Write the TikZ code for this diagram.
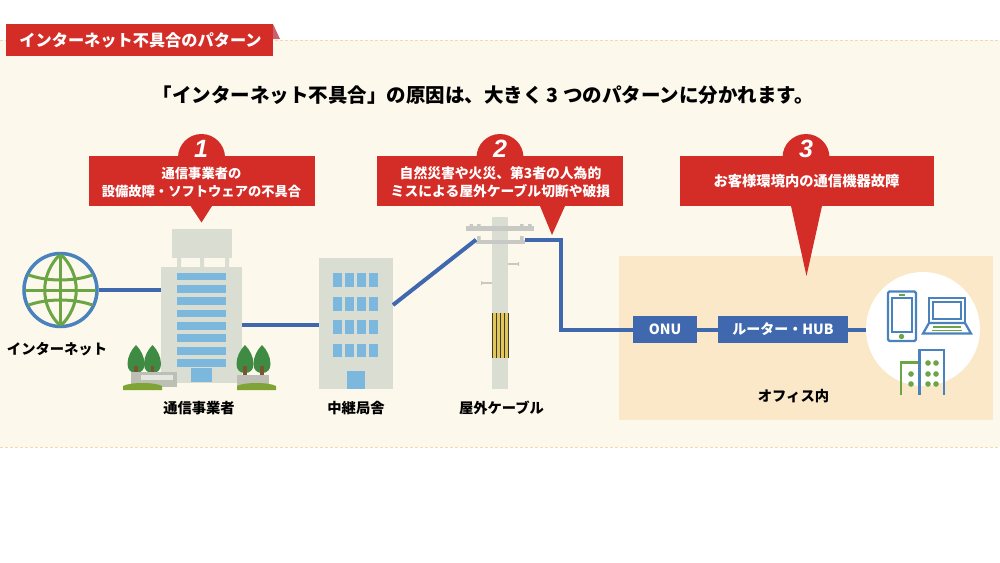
\documentclass[tikz,border=0pt]{standalone}
\usepackage{fontspec}
\setmainfont{Noto Sans CJK JP}
\newfontfamily\numf{Liberation Sans}
\definecolor{cream}{HTML}{FDF8EC}
\definecolor{dashc}{HTML}{F5D9A8}
\definecolor{redc}{HTML}{D42C26}
\definecolor{foldc}{HTML}{C9606A}
\definecolor{bluel}{HTML}{3F68AE}
\definecolor{globeb}{HTML}{4A82BE}
\definecolor{greenc}{HTML}{6BA544}
\definecolor{bldgc}{HTML}{D9DDD2}
\definecolor{winc}{HTML}{7CB8DE}
\definecolor{officec}{HTML}{FAE8C8}
\definecolor{treec}{HTML}{3F8B43}
\definecolor{trunkc}{HTML}{7A5530}
\definecolor{plantc}{HTML}{BDBFB5}
\definecolor{grassc}{HTML}{7FA334}
\definecolor{armc}{HTML}{C8C9C4}
\definecolor{yelc}{HTML}{E3C65A}
\definecolor{darkc}{HTML}{3A3A32}
\tikzset{
 block/.style={fill=#1,draw=none,inner sep=0pt,outer sep=0pt,rectangle},
 redtxt/.style={text=white,inner sep=0pt,align=center,font=\bfseries\fontsize{#1}{18}\selectfont},
 bluebox/.style={block=bluel,text=white,font=\bfseries\fontsize{14}{16}\selectfont},
 lab/.style={font=\bfseries\fontsize{14.3}{16}\selectfont,text=black,inner sep=0pt},
 numtxt/.style={font=\numf\bfseries\itshape\fontsize{25}{25}\selectfont,text=white,inner sep=0pt},
 cable/.style={draw=bluel,line width=4pt},
 glob/.style={draw=greenc,line width=3pt},
 thinb/.style={draw=globeb,line width=2.2pt},
 thing/.style={draw=greenc,line width=2.2pt},
}
\newcommand{\mytree}[1]{%
 \fill[treec] (#1,345) .. controls (#1+5,350) and (#1+8.5,357) .. (#1+8.5,364) .. controls (#1+8.5,370) and (#1+5,373) .. (#1,373) .. controls (#1-5,373) and (#1-8.5,370) .. (#1-8.5,364) .. controls (#1-8.5,357) and (#1-5,350) .. (#1,345) -- cycle;
 \fill[trunkc] (#1-1.8,366) rectangle (#1+1.8,376);}
\begin{document}
\begin{tikzpicture}[x=1pt,y=-1pt]
\useasboundingbox (0,0) rectangle (1000,562);
\fill[white] (0,0) rectangle (1000,562);
\fill[cream] (0,40) rectangle (1000,447);
\draw[dashc,line width=0.8pt,dash pattern=on 3pt off 2pt] (0,40) -- (1000,40);
\draw[dashc,line width=0.8pt,dash pattern=on 3pt off 2pt] (0,447) -- (1000,447);
% header
\fill[foldc] (273,24) -- (280,39) -- (273,39) -- cycle;
\node[block=redc,minimum width=267pt,minimum height=32pt] (head) at (139.5,40) {};
\node[inner sep=0pt,text=white,font=\bfseries\fontsize{16.2}{17}\selectfont] (headt) at (140.5,40.7) {インターネット不具合のパターン};
\node[inner sep=0pt,font=\bfseries\fontsize{19.5}{22}\selectfont,text=black] (title) at (483.2,95) {「インターネット不具合」の原因は、大きく 3 つのパターンに分かれます。};
% office area
\node[block=officec,minimum width=374.5pt,minimum height=164.5pt] (office) at (805.75,337.75) {};
\node[circle,fill=white,inner sep=0pt,minimum size=114pt] (devices) at (923,329) {};
% globe
\node[circle,draw=globeb,line width=3.5pt,fill=cream,minimum size=73pt,inner sep=0pt,outer sep=1.75pt] (globe) at (60.5,290) {};
\begin{scope}
\clip (60.5,290) circle (35.5);
\draw[glob] (60.5,254) -- (60.5,326);
\draw[glob] (24,290) -- (97,290);
\draw[glob] (60.5,254) .. controls (39.5,274) and (39.5,306) .. (60.5,326);
\draw[glob] (60.5,254) .. controls (81.5,274) and (81.5,306) .. (60.5,326);
\draw[glob] (26,274) .. controls (46,282) and (75,282) .. (95,274);
\draw[glob] (26,306) .. controls (46,298) and (75,298) .. (95,306);
\end{scope}
% telecom building
\node[block=bldgc,minimum width=60pt,minimum height=29pt] (sign) at (202,243.5) {};
\fill[bldgc] (177,258) rectangle (181,267) (200,258) rectangle (204,267) (225,258) rectangle (229,267);
\node[block=bldgc,minimum width=81pt,minimum height=116pt] (bldg) at (201.5,325) {};
\foreach \yy in {272.5,285,297,309.8,322,334.3,347,359}
  \fill[winc] (177,\yy) rectangle (226,\yy+7.5);
\fill[winc] (191,368) rectangle (212,382);
\mytree{136}\mytree{152.5}\mytree{245}\mytree{262}
\fill[plantc] (131,372) rectangle (177,387);
\fill[bldgc!70!white] (141,375) rectangle (173,380);
\fill[grassc] (123,386) .. controls (130,382) and (155,382) .. (162,386) -- (162,390) -- (123,390) -- cycle;
\fill[plantc] (237,375) rectangle (269,386);
\fill[grassc] (237,386) .. controls (244,382) and (269,382) .. (276,386) -- (276,390) -- (237,390) -- cycle;
% relay station
\node[block=bldgc,minimum width=74pt,minimum height=131pt] (relay) at (356,323.5) {};
\foreach \yy in {273,297,320,343.5}
  \foreach \xx in {333,345,357,369}
    \fill[winc] (\xx,\yy) rectangle (\xx+9,\yy+13.5);
\fill[winc] (346.5,371) rectangle (365,389);
% pole
\node[block=bldgc,minimum width=16pt,minimum height=172pt] (pole) at (500,303) {};
\node[block=armc,minimum width=68pt,minimum height=5pt] (arm1) at (500,228.5) {};
\node[block=armc,minimum width=49pt,minimum height=4.5pt] (arm2) at (500.5,242) {};
\fill[armc] (469.5,224) rectangle (473,227) (477,224) rectangle (480.5,227) (520,224) rectangle (523.5,227) (528,224) rectangle (531.5,227)
 (477,236) rectangle (480.5,241) (520,236) rectangle (523.5,241);
\fill[armc] (508,263.2) rectangle (518,264.8) (481,282.2) rectangle (492,283.8);
\fill[armc] (518,262) rectangle (519,266) (481,281) rectangle (482,285);
\fill[yelc] (491.5,313) rectangle (508.5,358);
\foreach \xx in {491.5,495.5,499.7,503.7,507.7}
  \fill[darkc] (\xx,313) rectangle (\xx+0.8,358);
% network boxes
\node[bluebox,minimum width=64pt,minimum height=27pt] (onu) at (665,329.5) {ONU};
\node[bluebox,minimum width=130pt,minimum height=27pt] (router) at (783,329.5) {ルーター・HUB};
% connectors
\coordinate (relayhi) at (393,305);
\coordinate (drop) at (561,285);
\draw[cable] (globe.east) -- (globe.east -| bldg.west);
\draw[cable] (bldg.east) -- (bldg.east -| relay.west);
\draw[cable] (relayhi) -- (arm2.north west);
\draw[cable] (arm2.north east) -| (drop) |- (onu.west);
\draw[cable] (onu.east) -- (router.west);
\draw[cable] (router.east) -- (router.east -| devices.west);
% devices
\draw[thinb,rounded corners=1.5pt] (888,291.5) rectangle (916,341);
\draw[thinb] (892,298) rectangle (912,332);
\draw[greenc,line width=2pt] (899,294.7) -- (905,294.7);
\fill[greenc] (901.5,336.5) circle (2.7);
\draw[thinb] (929,323) -- (929,298) -- (965,298) -- (965,323);
\draw[thinb] (933,302) rectangle (961,319);
\draw[thinb] (929,323) -- (965,323) -- (971,333.5) -- (923,333.5) -- cycle;
\draw[thing] (933,327) -- (961,327);
\draw[greenc,line width=1.4pt] (932,330.5) -- (962,330.5);
\draw[thing] (901,395) -- (901,362.5) -- (919.5,362.5);
\draw[thinb] (919.5,395) -- (919.5,350) -- (944,350) -- (944,395);
\foreach \xx/\yy in {911/374,911/384,928/363,936/363,928/374,936/374,928/384,936/384}
  \fill[greenc] (\xx,\yy) circle (2.8);
% callouts
\fill[redc] (201.5,157.5) circle (23.5);
\fill[redc] (190.5,206) -- (201.5,222.5) -- (212,206) -- cycle;
\node[block=redc,minimum width=225.5pt,minimum height=50pt] (call1) at (201.75,181) {};
\node[redtxt=13.3] (call1t) at (201.5,182.3) {通信事業者の\\設備故障・ソフトウェアの不具合};
\node[numtxt] (n1) at (201,148.5) {1};
\fill[redc] (500,157.5) circle (23.5);
\fill[redc] (540,206) -- (552,235) -- (565,206) -- cycle;
\node[block=redc,minimum width=246pt,minimum height=50pt] (call2) at (500,181) {};
\node[redtxt=13.8] (call2t) at (500.5,182.3) {自然災害や火災、第3者の人為的\\ミスによる屋外ケーブル切断や破損};
\node[numtxt] (n2) at (500,148.5) {2};
\fill[redc] (806,157.5) circle (23.5);
\fill[redc] (791,206) -- (806.5,276) -- (822,206) -- cycle;
\node[block=redc,minimum width=254pt,minimum height=50pt] (call3) at (807,181) {};
\node[redtxt=14.3] (call3t) at (806.5,181.5) {お客様環境内の通信機器故障};
\node[numtxt] (n3) at (806,148.5) {3};
% labels
\node[lab] (l1) at (57,349.5) {インターネット};
\node[lab] (l2) at (199,408) {通信事業者};
\node[lab] (l3) at (356,408) {中継局舎};
\node[lab] (l4) at (501.5,408) {屋外ケーブル};
\node[lab] (l5) at (793.5,396) {オフィス内};
\end{tikzpicture}
\end{document}
